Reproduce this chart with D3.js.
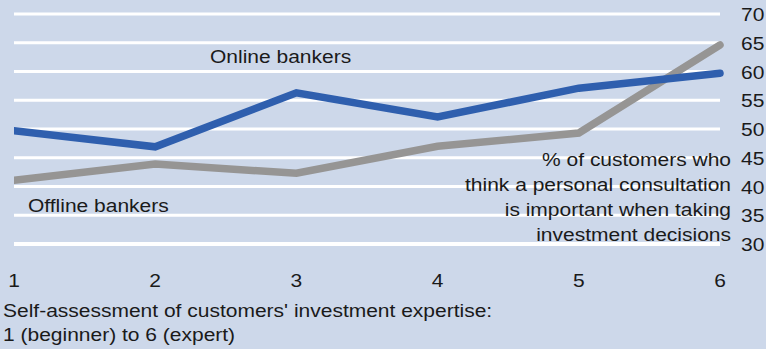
<!DOCTYPE html>
<html>
<head>
<meta charset="utf-8">
<script src="https://cdn.jsdelivr.net/npm/d3@7/dist/d3.min.js"></script>
<style>
  html, body { margin: 0; padding: 0; background: #cdd8ea; }
  svg { display: block; }
  text { font-family: "Liberation Sans", Arial, sans-serif; fill: #1a1a1a; font-size: 21px; }
</style>
</head>
<body>
<svg id="chart" width="766" height="349"></svg>
<script>
// Expertise levels on the x axis
const levels = [1, 2, 3, 4, 5, 6];
// % of customers who think a personal consultation is important
const onlineBankers  = [49.7, 46.9, 56.3, 52.1, 57.1, 59.7];
const offlineBankers = [41.1, 43.9, 42.3, 47.0, 49.3, 64.6];
const yTicks = [30, 35, 40, 45, 50, 55, 60, 65, 70];
const noteLines = [
  "% of customers who",
  "think a personal consultation",
  "is important when taking",
  "investment decisions"
];
const xTitleLines = [
  "Self-assessment of customers' investment expertise:",
  "1 (beginner) to 6 (expert)"
];

const svg = d3.select("#chart");
const FONT_SY = 0.88; // glyphs are set slightly flattened

const x = d3.scaleLinear().domain([1, 6]).range([14, 720]);
const y = d3.scaleLinear().domain([30, 70]).range([244, 14]);

// place a text element at a baseline point with the flattened glyph style
function placeText(sel, px, py) {
  sel.attr("transform", (d, i) => {
    const X = typeof px === "function" ? px(d, i) : px;
    const Y = typeof py === "function" ? py(d, i) : py;
    return `translate(${X},${Y}) scale(1,${FONT_SY})`;
  });
  return sel;
}

// horizontal white gridlines
svg.append("g")
  .selectAll("line")
  .data(yTicks)
  .join("line")
  .attr("x1", 14).attr("x2", 720)
  .attr("y1", d => y(d)).attr("y2", d => y(d))
  .attr("stroke", "#ffffff")
  .attr("stroke-width", d => d === 30 ? 4 : 3);

// right-hand value axis labels
svg.append("g")
  .selectAll("text")
  .data(yTicks)
  .join("text")
  .call(placeText, 741, d => y(d) + 7)
  .text(d => d);

// bottom category labels
svg.append("g")
  .selectAll("text")
  .data(levels)
  .join("text")
  .attr("text-anchor", "middle")
  .call(placeText, d => x(d), 287)
  .text(d => d);

// series lines
const line = d3.line().x((d, i) => x(levels[i])).y(d => y(d));

svg.append("clipPath").attr("id", "plotClip")
  .append("rect").attr("x", 14).attr("y", 0).attr("width", 752).attr("height", 349);

const lines = svg.append("g").attr("clip-path", "url(#plotClip)");

lines.append("path")
  .datum(offlineBankers)
  .attr("d", line)
  .attr("fill", "none")
  .attr("stroke", "#969594")
  .attr("stroke-width", 7.5)
  .attr("stroke-linejoin", "miter")
  .attr("stroke-linecap", "round");

lines.append("path")
  .datum(onlineBankers)
  .attr("d", line)
  .attr("fill", "none")
  .attr("stroke", "#2f5fae")
  .attr("stroke-width", 7.5)
  .attr("stroke-linejoin", "miter")
  .attr("stroke-linecap", "round");

// series labels
svg.append("text").call(placeText, 210, 63).text("Online bankers");
svg.append("text").call(placeText, 28, 212).text("Offline bankers");

// note block, right-aligned next to the value axis
svg.append("g")
  .selectAll("text")
  .data(noteLines)
  .join("text")
  .attr("text-anchor", "end")
  .call(placeText, 731, (d, i) => 166 + i * 25)
  .text(d => d);

// x axis title
svg.append("g")
  .selectAll("text")
  .data(xTitleLines)
  .join("text")
  .call(placeText, 3, (d, i) => 317 + i * 24)
  .text(d => d);
</script>
</body>
</html>
